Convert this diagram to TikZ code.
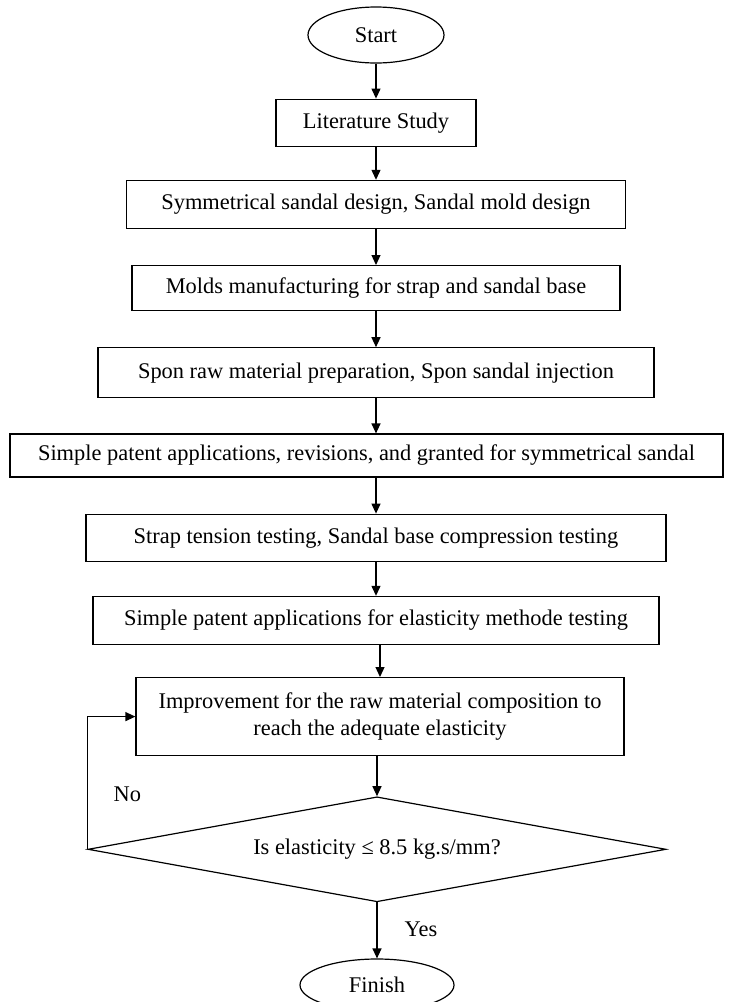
\documentclass[tikz,border=0pt]{standalone}
\usepackage{fontspec}
\setmainfont{Liberation Serif}
\usetikzlibrary{arrows.meta,positioning,shapes.geometric}

\begin{document}
\begin{tikzpicture}[font=\fontsize{11.2}{13.6}\selectfont]
 \useasboundingbox (0,0) rectangle (364.5pt,-501pt);

 \node[draw, line width=0.6pt, ellipse, inner sep=0pt, minimum width=68pt, minimum height=28pt] (start) at (188pt,-17.5pt) {Start};
 \node[draw, line width=0.6pt, rectangle, inner sep=0pt, minimum width=100pt, minimum height=23.5pt, below=17.5pt of start] (lit) {Literature Study};
 \node[draw, line width=0.6pt, rectangle, inner sep=0pt, minimum width=249.5pt, minimum height=24pt, below=16.5pt of lit] (design) {Symmetrical sandal design, Sandal mold design};
 \node[draw, line width=0.6pt, rectangle, inner sep=0pt, minimum width=244pt, minimum height=22.5pt, below=18pt of design] (molds) {Molds manufacturing for strap and sandal base};
 \node[draw, line width=0.6pt, rectangle, inner sep=0pt, minimum width=278pt, minimum height=25pt, below=18pt of molds] (spon) {Spon raw material preparation, Spon sandal injection};
 \node[draw, line width=0.6pt, rectangle, inner sep=0pt, minimum width=356.5pt, minimum height=21.5pt, below=17.5pt of spon, xshift=-4.75pt] (patent) {Simple patent applications, revisions, and granted for symmetrical sandal};
 \node[draw, line width=0.6pt, rectangle, inner sep=0pt, minimum width=290pt, minimum height=23.5pt, below=18pt of patent, xshift=4.75pt] (tension) {Strap tension testing, Sandal base compression testing};
 \node[draw, line width=0.6pt, rectangle, inner sep=0pt, minimum width=283pt, minimum height=24pt, below=17pt of tension] (method) {Simple patent applications for elasticity methode testing};
 \node[draw, line width=0.6pt, rectangle, inner sep=0pt, minimum width=244pt, minimum height=39pt, align=center, below=16pt of method, xshift=2pt] (impr) {Improvement for the raw material composition to\\reach the adequate elasticity};
 \node[draw, line width=0.6pt, diamond, aspect=5.5, inner sep=0pt, minimum width=289pt, minimum height=52.5pt, below=20pt of impr, xshift=-1.5pt] (dec) {Is elasticity ≤ 8.5 kg.s/mm?};
 \node[draw, line width=0.6pt, ellipse, inner sep=0pt, minimum width=77pt, minimum height=26pt, below=28pt of dec] (finish) {Finish};

 \node (no) at ([xshift=20pt,yshift=27.5pt]dec.west) {No};
 \node (yes) at ([xshift=22pt,yshift=-13.5pt]dec.south) {Yes};

 \draw[-{Triangle[length=5pt,width=4.5pt]}, line width=0.6pt] (start) -- (lit);
 \draw[-{Triangle[length=5pt,width=4.5pt]}, line width=0.6pt] (lit) -- (design);
 \draw[-{Triangle[length=5pt,width=4.5pt]}, line width=0.6pt] (design) -- (molds);
 \draw[-{Triangle[length=5pt,width=4.5pt]}, line width=0.6pt] (molds) -- (spon);
 \draw[-{Triangle[length=5pt,width=4.5pt]}, line width=0.6pt] (spon.south) -- (spon.south |- patent.north);
 \draw[-{Triangle[length=5pt,width=4.5pt]}, line width=0.6pt] (tension.north |- patent.south) -- (tension.north);
 \draw[-{Triangle[length=5pt,width=4.5pt]}, line width=0.6pt] (tension) -- (method);
 \draw[-{Triangle[length=5pt,width=4.5pt]}, line width=0.6pt] (method.south -| impr.north) -- (impr.north);
 \draw[-{Triangle[length=5pt,width=4.5pt]}, line width=0.6pt] (impr.south -| dec.north) -- (dec.north);
 \draw[-{Triangle[length=5pt,width=4.5pt]}, line width=0.6pt] (dec.south) -- (dec.south |- finish.north);
 \draw[-{Triangle[length=5pt,width=4.5pt]}, line width=0.6pt] (dec.west) |- (impr.west);
\end{tikzpicture}
\end{document}
